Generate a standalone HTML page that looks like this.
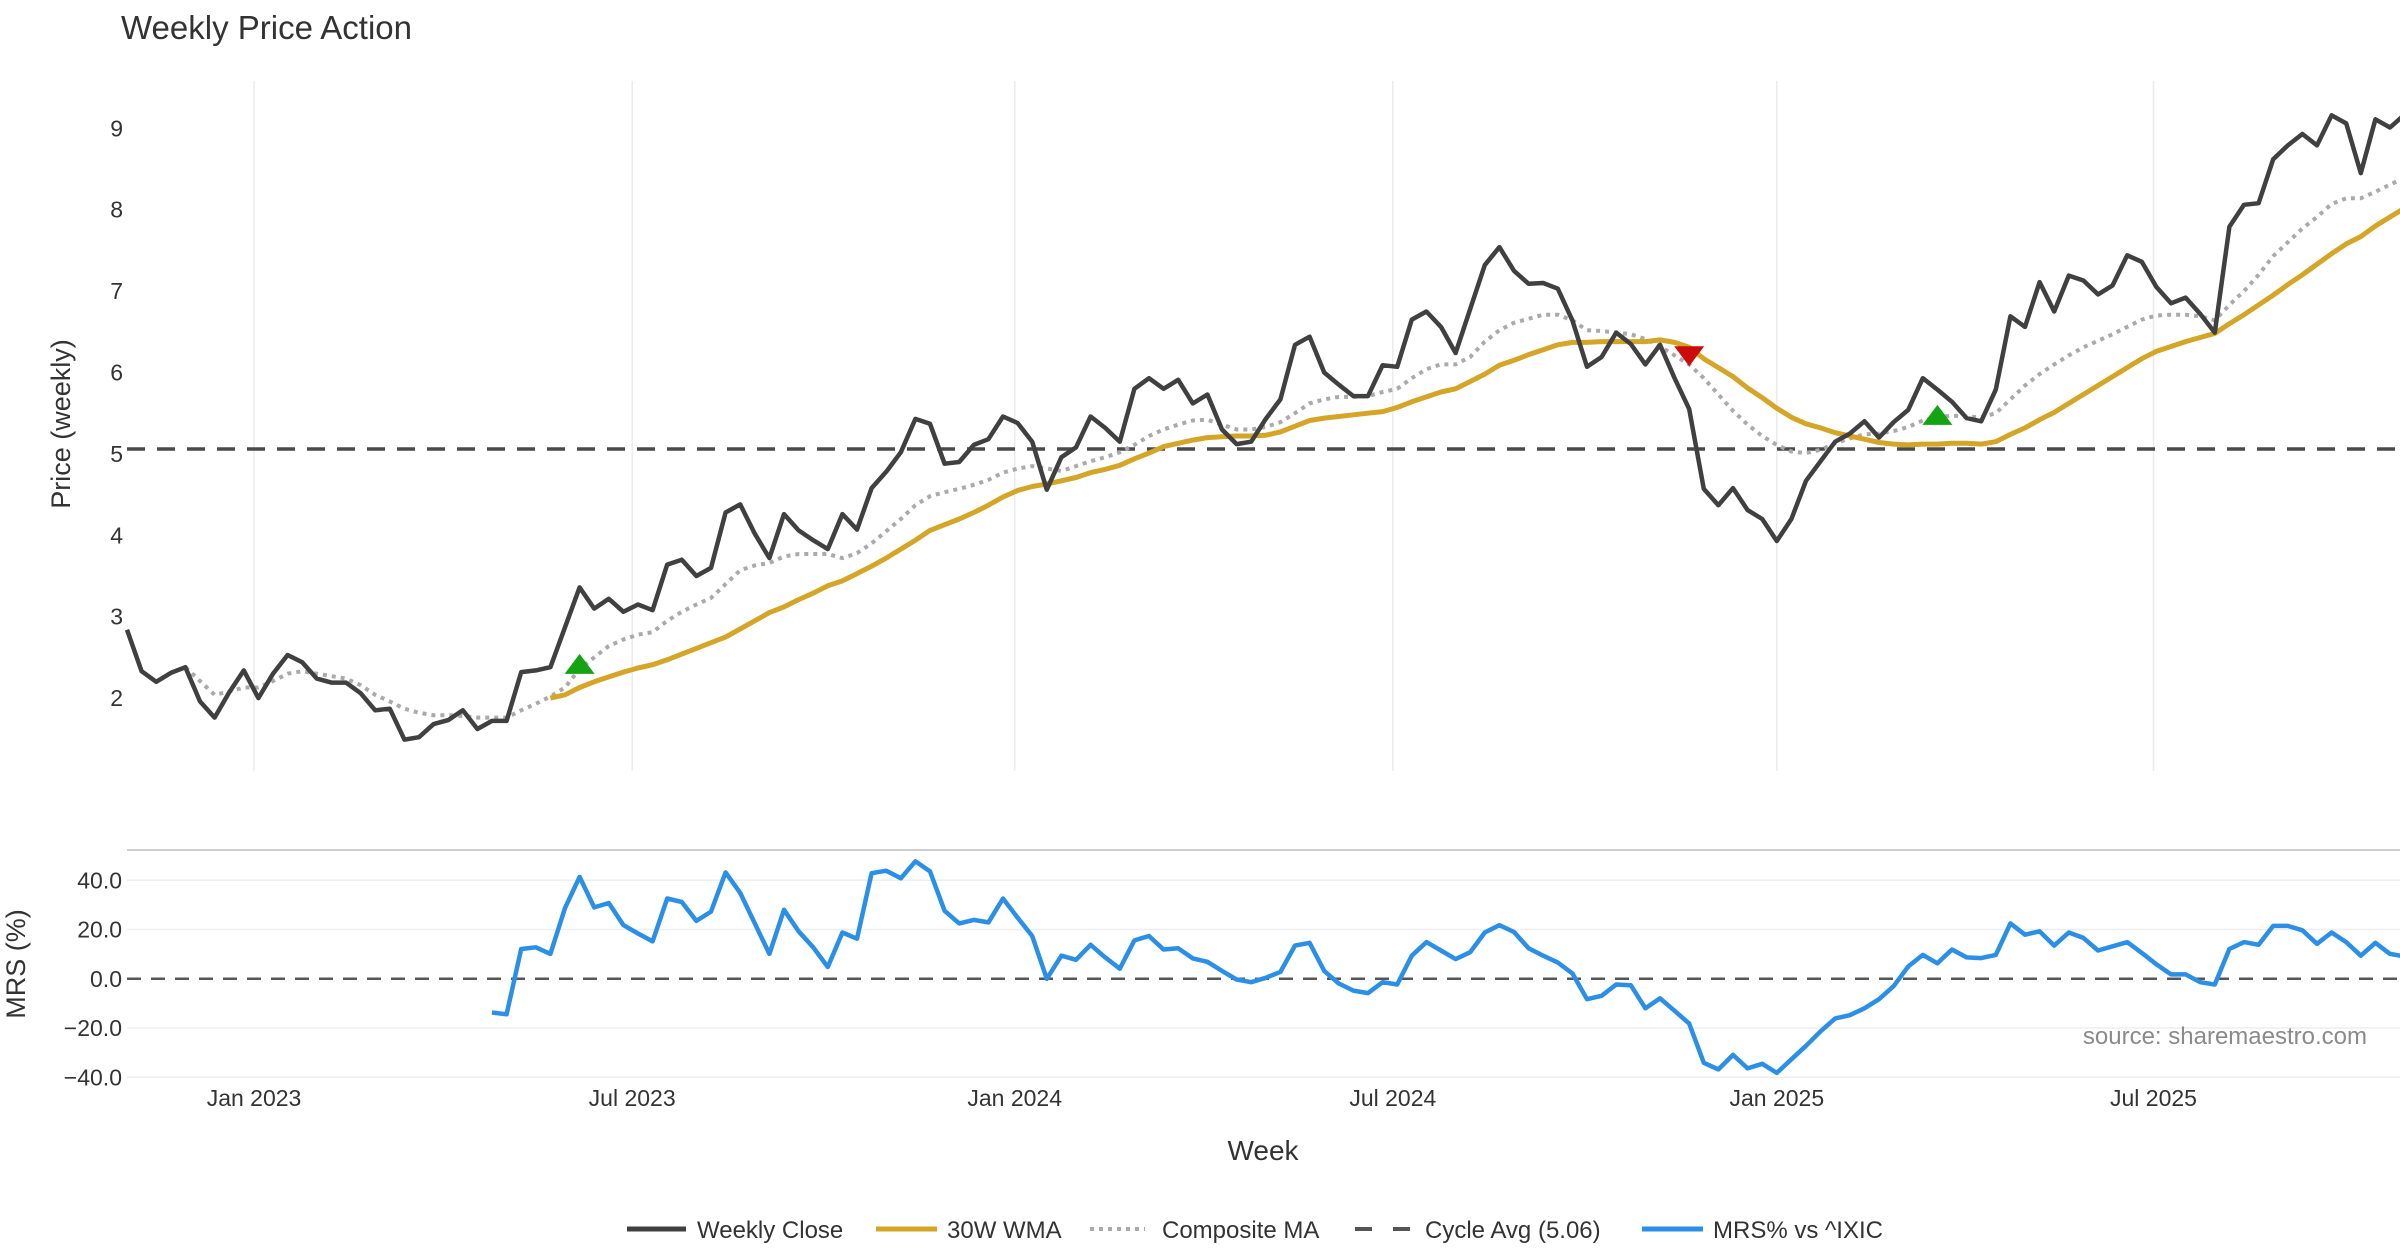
<!DOCTYPE html>
<html><head><meta charset="utf-8"><style>
html,body{margin:0;padding:0;background:#fff;}
svg{display:block;font-family:"Liberation Sans","DejaVu Sans",sans-serif;}
</style></head><body>
<svg id="chart" width="2400" height="1260" xmlns="http://www.w3.org/2000/svg">
<text x="121" y="39" font-size="33" fill="#333">Weekly Price Action</text>
<g id="grid"></g>
<g id="price"></g>
<g id="mrs"></g>
<text transform="translate(70,424) rotate(-90)" text-anchor="middle" font-size="27" fill="#333">Price (weekly)</text>
<text transform="translate(25,964) rotate(-90)" text-anchor="middle" font-size="27" fill="#333">MRS (%)</text>
<text x="1263" y="1160" text-anchor="middle" font-size="28" fill="#333">Week</text>
<text x="2367" y="1044" text-anchor="end" font-size="24" fill="#8a8a8a">source: sharemaestro.com</text>
<g font-size="24" fill="#333">
  <g><line x1="627" y1="1229" x2="686" y2="1229" stroke="#404040" stroke-width="5"/><text x="697" y="1238">Weekly Close</text></g>
  <g><line x1="876" y1="1229" x2="937" y2="1229" stroke="#d4a526" stroke-width="5"/><text x="947" y="1238">30W WMA</text></g>
  <g><line x1="1090" y1="1229" x2="1145" y2="1229" stroke="#aaa" stroke-width="4" stroke-dasharray="4,5"/><text x="1162" y="1238">Composite MA</text></g>
  <g><line x1="1355" y1="1229" x2="1410" y2="1229" stroke="#555" stroke-width="4" stroke-dasharray="17,21"/><text x="1425" y="1238">Cycle Avg (5.06)</text></g>
  <g><line x1="1642" y1="1229" x2="1703" y2="1229" stroke="#2b8fe8" stroke-width="5"/><text x="1713" y="1238">MRS% vs ^IXIC</text></g>
</g>
</svg>
<script>
const closeVals=[2.84,2.33,2.20,2.31,2.38,1.96,1.76,2.07,2.34,2.00,2.30,2.53,2.44,2.24,2.19,2.19,2.06,1.85,1.87,1.49,1.52,1.68,1.73,1.85,1.62,1.72,1.72,2.32,2.34,2.38,2.87,3.36,3.10,3.22,3.06,3.15,3.08,3.64,3.70,3.50,3.60,4.28,4.38,4.02,3.72,4.26,4.06,3.94,3.83,4.26,4.07,4.58,4.78,5.02,
5.43,5.37,4.88,4.90,5.11,5.18,5.46,5.38,5.15,4.56,4.96,5.08,5.46,5.32,5.15,5.80,5.93,5.80,5.91,5.62,5.73,5.30,5.12,5.15,5.43,5.67,6.34,6.44,6.00,5.85,5.71,5.71,6.09,6.07,6.65,6.75,6.56,6.24,6.78,7.32,7.54,7.25,7.09,7.10,7.03,6.64,6.07,6.19,6.49,6.35,6.10,
6.34,5.93,5.55,4.57,4.37,4.58,4.31,4.20,3.93,4.20,4.67,4.91,5.15,5.25,5.40,5.20,5.39,5.54,5.93,5.79,5.64,5.44,5.40,5.79,6.69,6.56,7.11,6.75,7.19,7.13,6.96,7.07,7.44,7.36,7.05,6.85,6.92,6.72,6.49,7.79,8.06,8.08,8.62,8.79,8.93,8.79,9.16,9.06,8.45,9.11,9.01,9.17];
const wmaVals=[null,null,null,null,null,null,null,null,null,null,null,null,null,null,null,null,null,null,null,null,null,null,null,null,null,null,null,null,null,
2.00,2.04,2.13,2.20,2.26,2.32,2.37,2.41,2.47,2.54,2.61,2.68,2.75,2.85,2.95,3.05,3.12,3.21,3.29,3.38,3.44,3.53,3.62,3.72,3.83,3.94,4.06,4.13,4.20,4.28,4.37,4.47,4.55,4.60,4.63,4.67,4.71,4.77,4.81,4.86,4.94,5.01,5.09,5.13,5.17,5.20,5.21,5.22,5.22,5.23,5.27,5.34,5.41,5.44,5.46,5.48,5.50,5.52,5.57,5.64,5.70,5.76,5.80,5.89,5.98,6.09,6.15,6.22,6.28,6.34,6.37,6.37,6.38,6.38,6.38,6.38,6.40,6.37,6.31,6.17,6.06,5.95,5.81,5.69,5.56,5.45,5.37,5.32,5.26,5.22,5.18,5.14,5.12,5.11,5.12,5.12,5.13,5.13,5.12,5.15,5.24,5.32,5.42,5.51,5.62,5.73,5.84,5.95,6.06,6.17,6.26,6.32,6.38,6.43,6.48,6.60,6.71,6.83,6.95,7.08,7.20,7.33,7.46,7.58,7.67,7.80,7.91,8.02];
const compVals=[null,null,null,null,2.38,2.21,2.04,2.08,2.13,2.13,2.21,2.30,2.33,2.30,2.27,2.24,2.16,2.04,1.96,1.87,1.82,1.79,1.79,1.78,1.76,1.76,1.76,1.85,1.93,2.02,2.13,2.36,2.50,2.64,2.72,2.78,2.81,2.95,3.06,3.15,3.23,3.40,3.57,3.63,3.66,3.74,3.77,3.77,3.77,3.72,3.78,3.90,4.05,4.20,4.37,4.48,4.53,4.57,4.62,4.68,4.77,4.82,4.85,4.82,4.79,4.85,4.91,4.96,5.02,5.11,5.22,5.30,5.36,5.41,5.42,5.36,5.30,5.30,5.33,5.39,5.50,5.62,5.67,5.70,5.70,5.71,5.76,5.80,5.93,6.04,6.10,6.10,6.19,6.38,6.52,6.61,6.66,6.71,6.71,6.64,6.52,6.51,6.49,6.47,6.41,6.32,6.21,6.10,5.93,5.73,5.53,5.36,5.22,5.11,5.03,5.01,5.05,5.13,5.19,5.24,5.25,5.28,5.33,5.41,5.45,5.47,5.46,5.45,5.50,5.67,5.84,5.98,6.10,6.21,6.31,6.39,6.47,6.56,6.65,6.70,6.71,6.71,6.69,6.64,6.83,7.00,7.20,7.43,7.60,7.77,7.91,8.07,8.14,8.14,8.22,8.31,8.39];
const mrsVals=[null,null,null,null,null,null,null,null,null,null,null,null,null,null,null,null,null,null,null,null,null,null,null,null,null,
-13.7,-14.4,12.1,12.8,10.1,28.7,41.4,29.0,30.8,21.8,18.4,15.2,32.6,31.2,23.5,27.3,43.2,34.9,22.5,10.1,28.0,19.3,12.8,4.8,18.8,16.3,42.9,43.9,40.8,47.7,43.6,27.6,22.5,23.9,22.9,32.6,24.8,17.4,0.0,9.4,7.7,13.8,8.7,4.1,15.6,17.4,11.9,12.4,8.3,6.9,3.2,-0.3,-1.4,0.4,2.8,13.5,14.6,3.2,-1.9,-4.8,-5.8,-1.4,-2.3,9.4,14.9,
11.5,8.0,10.8,18.8,21.8,19.0,12.4,9.4,6.6,2.2,-8.3,-6.9,-2.3,-2.6,-12.0,-7.9,-13.0,-18.2,-34.1,-36.8,-30.9,-36.4,-34.5,-38.2,-32.7,-27.2,-21.3,-16.1,-14.8,-12.0,-8.3,-3.0,5.0,9.7,6.3,11.9,8.7,8.4,9.7,22.5,17.9,19.3,13.5,18.8,16.6,11.5,13.2,14.9,10.5,5.9,1.8,1.8,-1.4,-2.3,12.1,14.9,13.8,21.5,21.5,19.7,14.2,18.8,14.9,9.4,14.6,10.1,9.1];
const cycleAvg=5.06;
const priceTicks=[2,3,4,5,6,7,8,9];
const mrsTicks=[-40,-20,0,20,40];
const xTickLabels=["Jan 2023","Jul 2023","Jan 2024","Jul 2024","Jan 2025","Jul 2025"];
const xTickIndex=[8.7,34.6,60.8,86.7,113.0,138.8];
const buyIdx=[31,124];const buyPrice=[2.42,5.48];
const sellIdx=[107];const sellPrice=[6.20];

const NS="http://www.w3.org/2000/svg";
const X0=127,XSTEP=14.6,XMAX=2400;
const xs=i=>X0+i*XSTEP;
const yp=p=>128.3+(9-p)*81.4;
const ym=v=>978.8-v*(98.5/40);
function mk(tag,attrs,parent){const e=document.createElementNS(NS,tag);for(const k in attrs)e.setAttribute(k,attrs[k]);parent.appendChild(e);return e;}
const grid=document.getElementById('grid'),price=document.getElementById('price'),mrs=document.getElementById('mrs');
xTickIndex.forEach((ix,k)=>{
  const x=xs(ix);
  const gl=mk('line',{x1:x,y1:81,x2:x,y2:771,stroke:'#ebebeb','stroke-width':1.5},grid);
  
  
  const t=mk('text',{x:x,y:1106,'text-anchor':'middle','font-size':23,fill:'#333'},grid);
  t.textContent=xTickLabels[k];
  
  
});
priceTicks.forEach(v=>{
  const t=mk('text',{x:123,y:yp(v)+8,'text-anchor':'end','font-size':23,fill:'#333'},grid);
  t.textContent=v;
  
  
});
const border=mk('line',{x1:X0,y1:850,x2:XMAX,y2:850,stroke:'#cfcfcf','stroke-width':2},mrs);


mrsTicks.forEach(v=>{
  if(v!==0){const g=mk('line',{x1:X0,y1:ym(v),x2:XMAX,y2:ym(v),stroke:'#eeeeee','stroke-width':1.5},mrs);
  
  }
  const t=mk('text',{x:122,y:ym(v)+8,'text-anchor':'end','font-size':23,fill:'#333'},mrs);
  t.textContent=(v<0?'\u2212'+Math.abs(v).toFixed(1):v.toFixed(1));
  
  
});
const zl=mk('line',{x1:X0,y1:ym(0),x2:XMAX,y2:ym(0),stroke:'#555','stroke-width':2.5,'stroke-dasharray':'14,10'},mrs);


function path(vals,yf){let d='',pen=false;vals.forEach((v,i)=>{if(v==null){pen=false;return;}d+=(pen?'L':'M')+xs(i).toFixed(1)+','+yf(v).toFixed(1);pen=true;});return d;}
const cl=mk('line',{x1:X0,y1:yp(cycleAvg),x2:XMAX,y2:yp(cycleAvg),stroke:'#4a4a4a','stroke-width':3.5,'stroke-dasharray':'18,12'},price);


const comp=mk('path',{d:path(compVals,yp),fill:'none',stroke:'#aaaaaa','stroke-width':4,'stroke-dasharray':'4,5'},price);


const wma=mk('path',{d:path(wmaVals,yp),fill:'none',stroke:'#d4a526','stroke-width':5,'stroke-linejoin':'round'},price);


const cls=mk('path',{d:path(closeVals,yp),fill:'none',stroke:'#404040','stroke-width':4.5,'stroke-linejoin':'round'},price);


buyIdx.forEach((ix,k)=>{const x=xs(ix),y=yp(buyPrice[k]);
  const t=mk('polygon',{points:`${x-15},${y+10} ${x+15},${y+10} ${x},${y-10}`,fill:'#13a313'},price);
  
  });
sellIdx.forEach((ix,k)=>{const x=xs(ix),y=yp(sellPrice[k]);
  const t=mk('polygon',{points:`${x-15},${y-10} ${x+15},${y-10} ${x},${y+10}`,fill:'#cc0b0b'},price);
  
  });
const ml=mk('path',{d:path(mrsVals,ym),fill:'none',stroke:'#2b8fe8','stroke-width':4.5,'stroke-linejoin':'round'},mrs);


</script>
</body></html>
